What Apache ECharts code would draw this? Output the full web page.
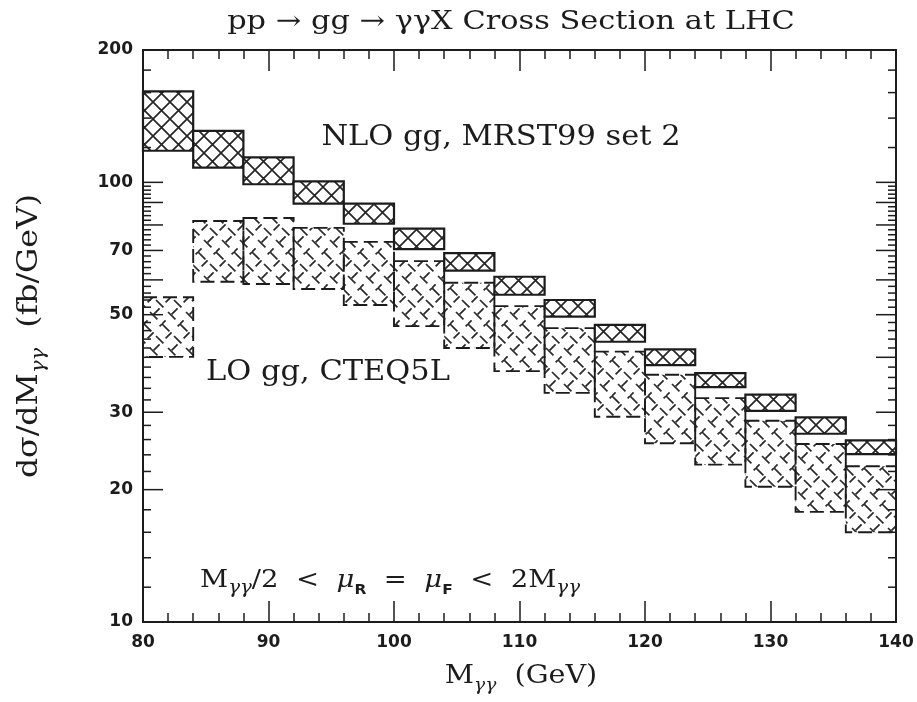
<!DOCTYPE html>
<html>
<head>
<meta charset="utf-8">
<script src="https://cdn.jsdelivr.net/npm/echarts@6/dist/echarts.min.js"></script>
<style>
  html, body { margin: 0; padding: 0; background: #fff; }
  #chart { width: 917px; height: 702px; }
</style>
</head>
<body>
<div id="chart"></div>
<script>
// Invariant-mass bins (GeV), 4 GeV wide
const binEdges = [80, 84, 88, 92, 96, 100, 104, 108, 112, 116, 120, 124, 128, 132, 136, 140];

// NLO gg, MRST99 set 2: scale-variation band (fb/GeV)
const nloHigh = [161, 131, 114, 100.5, 89.5, 78.5, 69.0, 61.0, 54.0, 47.4, 41.7, 36.8, 32.9, 29.2, 25.9];
const nloLow  = [118, 108, 99.0, 89.5, 80.5, 70.5, 63.0, 55.5, 49.5, 43.4, 38.4, 34.2, 30.2, 26.8, 24.1];

// LO gg, CTEQ5L: scale-variation band (fb/GeV)
const loHigh = [54.8, 81.7, 83.0, 78.8, 73.2, 66.2, 59.1, 52.3, 46.6, 41.2, 36.5, 32.3, 28.7, 25.4, 22.6];
const loLow  = [40.1, 59.4, 58.7, 57.2, 52.6, 47.1, 42.0, 37.2, 33.2, 29.3, 25.5, 22.8, 20.3, 17.8, 16.0];

// Axis annotations
const yLabelValues = [10, 20, 30, 50, 70, 100, 200];
const yTicksLong  = [20, 30, 40, 50, 60, 70, 80, 90, 100];
const yTicksShort = [12, 14, 16, 18, 22, 24, 26, 28, 32, 34, 36, 38, 42, 44, 46, 48,
                     52, 54, 56, 58, 62, 64, 66, 68, 72, 74, 76, 78, 82, 84, 86, 88,
                     92, 94, 96, 98, 120, 140, 160, 180];

const INK = '#1c1c1c';
const SERIF = '"DejaVu Serif", "Liberation Serif", serif';
const SANS = '"DejaVu Sans", "Liberation Sans", sans-serif';

function makeBands(lo, hi) {
  return lo.map((v, i) => [binEdges[i], binEdges[i + 1], v, hi[i]]);
}

// Solid cross-hatch tile (diamond lattice)
function crossHatchTile(size, lw) {
  const c = document.createElement('canvas');
  c.width = c.height = size;
  const g = c.getContext('2d');
  g.fillStyle = '#fff';
  g.fillRect(0, 0, size, size);
  g.strokeStyle = '#262626';
  g.lineWidth = lw;
  g.beginPath();
  for (const o of [-size, 0, size]) {
    g.moveTo(o, 0); g.lineTo(o + size, size);
    g.moveTo(o + size, 0); g.lineTo(o, size);
  }
  g.stroke();
  return c;
}

// Broken (dashed) cross-hatch tile
function brokenHatchTile(size, lw) {
  const c = document.createElement('canvas');
  c.width = c.height = size;
  const g = c.getContext('2d');
  g.strokeStyle = '#2a2a2a';
  g.lineWidth = lw;
  g.lineCap = 'butt';
  const diag = size * Math.SQRT2;
  const period = diag / 3;
  const half = size / 2;
  g.setLineDash([period * 0.62, period * 0.38]);
  g.beginPath();
  for (const o of [-size, -half, 0, half, size]) {
    g.moveTo(o, 0); g.lineTo(o + size, size);
  }
  g.stroke();
  g.setLineDash([period * 0.5, period * 0.5]);
  g.lineDashOffset = period * 0.3;
  g.beginPath();
  for (const o of [-size, -half, 0, half, size]) {
    g.moveTo(o + size, 0); g.lineTo(o, size);
  }
  g.stroke();
  return c;
}

const nloPattern = { image: crossHatchTile(17, 1.7), repeat: 'repeat' };
const loPattern = { image: brokenHatchTile(36, 1.7), repeat: 'repeat' };

function bandSeries(name, data, pattern, dashed) {
  return {
    name,
    type: 'custom',
    coordinateSystem: 'cartesian2d',
    silent: true,
    clip: false,
    data,
    encode: { x: [0, 1], y: [2, 3] },
    renderItem(params, api) {
      const tl = api.coord([api.value(0), api.value(3)]);
      const br = api.coord([api.value(1), api.value(2)]);
      return {
        type: 'rect',
        shape: { x: tl[0], y: tl[1], width: br[0] - tl[0], height: br[1] - tl[1] },
        style: {
          fill: pattern,
          stroke: INK,
          lineWidth: dashed ? 1.9 : 2.2,
          lineDash: dashed ? [14, 6] : null
        }
      };
    }
  };
}

// Log-axis ticks drawn on both the left and right frame edges
function yTickSeries(values, len) {
  return {
    type: 'custom',
    coordinateSystem: 'cartesian2d',
    silent: true,
    clip: false,
    data: values.map(v => [80, v]),
    encode: { x: 0, y: 1 },
    renderItem(params, api) {
      const v = api.value(1);
      const l = api.coord([80, v]);
      const r = api.coord([140, v]);
      return {
        type: 'group',
        children: [
          { type: 'line', shape: { x1: l[0], y1: l[1], x2: l[0] + len, y2: l[1] }, style: { stroke: INK, lineWidth: 1.5 } },
          { type: 'line', shape: { x1: r[0], y1: r[1], x2: r[0] - len, y2: r[1] }, style: { stroke: INK, lineWidth: 1.5 } }
        ]
      };
    }
  };
}

const yLabelSeries = {
  type: 'custom',
  coordinateSystem: 'cartesian2d',
  silent: true,
  clip: false,
  data: yLabelValues.map(v => [80, v]),
  encode: { x: 0, y: 1 },
  renderItem(params, api) {
    const v = api.value(1);
    const p = api.coord([80, v]);
    return {
      type: 'text',
      x: p[0] - 10,
      y: p[1],
      style: {
        text: String(v),
        align: 'right',
        verticalAlign: 'middle',
        font: 'bold 17px ' + SANS,
        fill: INK
      }
    };
  }
};

const xAxisCommon = {
  type: 'value',
  min: 80,
  max: 140,
  interval: 10,
  axisLine: { show: false },
  splitLine: { show: false },
  axisTick: { show: true, inside: true, length: 21, lineStyle: { color: INK, width: 1.5 } },
  minorTick: { show: true, splitNumber: 5, length: 9, lineStyle: { color: INK, width: 1.5 } }
};

const sub = (extra) => Object.assign({ fontFamily: SERIF, fill: INK, verticalAlign: 'bottom' }, extra);

const chart = echarts.init(document.getElementById('chart'), null, { renderer: 'canvas' });
chart.setOption({
  backgroundColor: '#fff',
  animation: false,
  grid: { left: 143, top: 50, right: 21, bottom: 80, show: true, borderColor: INK, borderWidth: 2, backgroundColor: 'transparent' },
  xAxis: [
    Object.assign({}, xAxisCommon, {
      position: 'bottom',
      axisLabel: { show: true, margin: 12, fontFamily: SANS, fontWeight: 'bold', fontSize: 17, color: INK }
    }),
    Object.assign({}, xAxisCommon, { position: 'top', axisLabel: { show: false } })
  ],
  yAxis: {
    type: 'log',
    logBase: 10,
    min: 10,
    max: 200,
    axisLine: { show: false },
    axisTick: { show: false },
    axisLabel: { show: false },
    splitLine: { show: false },
    minorTick: { show: false }
  },
  series: [
    bandSeries('LO gg, CTEQ5L', makeBands(loLow, loHigh), loPattern, true),
    bandSeries('NLO gg, MRST99 set 2', makeBands(nloLow, nloHigh), nloPattern, false),
    yTickSeries(yTicksLong, 20),
    yTickSeries(yTicksShort, 8),
    yLabelSeries
  ],
  graphic: [
    {
      type: 'text', x: 511, y: 22, scaleX: 1.17,
      style: {
        text: 'pp → gg → γγX Cross Section at LHC',
        font: '26px ' + SERIF, fill: INK, align: 'center', verticalAlign: 'middle'
      }
    },
    {
      type: 'text', x: 501, y: 138, scaleX: 1.13,
      style: {
        text: 'NLO gg, MRST99 set 2',
        font: '27px ' + SERIF, fill: INK, align: 'center', verticalAlign: 'middle'
      }
    },
    {
      type: 'text', x: 328, y: 373, scaleX: 1.13,
      style: {
        text: 'LO gg, CTEQ5L',
        font: '27px ' + SERIF, fill: INK, align: 'center', verticalAlign: 'middle'
      }
    },
    {
      type: 'text', x: 390, y: 580, scaleX: 1.1,
      style: {
        text: '{m|M}{g|γγ}{m|/2  <  }{mu|μ}{b|R}{m|  =  }{mu|μ}{b|F}{m|  <  2M}{g|γγ}',
        align: 'center', verticalAlign: 'middle',
        rich: {
          m: sub({ fontSize: 25, lineHeight: 34, verticalAlign: 'middle' }),
          mu: sub({ fontSize: 25, lineHeight: 34, fontStyle: 'italic', verticalAlign: 'middle' }),
          g: sub({ fontSize: 18, lineHeight: 18, fontStyle: 'italic' }),
          b: sub({ fontSize: 14, lineHeight: 17, fontWeight: 'bold', fontFamily: SANS })
        }
      }
    },
    {
      type: 'text', x: 521, y: 676, scaleX: 1.1,
      style: {
        text: '{m|M}{g|γγ}{m|  (GeV)}',
        align: 'center', verticalAlign: 'middle',
        rich: {
          m: sub({ fontSize: 26, lineHeight: 36, verticalAlign: 'middle' }),
          g: sub({ fontSize: 17, lineHeight: 17, fontStyle: 'italic' })
        }
      }
    },
    {
      type: 'text', x: 30, y: 336, rotation: Math.PI / 2, scaleX: 1.17,
      style: {
        text: '{m|dσ/dM}{g|γγ}{m|  (fb/GeV)}',
        align: 'center', verticalAlign: 'middle',
        rich: {
          m: sub({ fontSize: 27, lineHeight: 36, verticalAlign: 'middle' }),
          g: sub({ fontSize: 18, lineHeight: 18, fontStyle: 'italic' })
        }
      }
    }
  ]
});
</script>
</body>
</html>
